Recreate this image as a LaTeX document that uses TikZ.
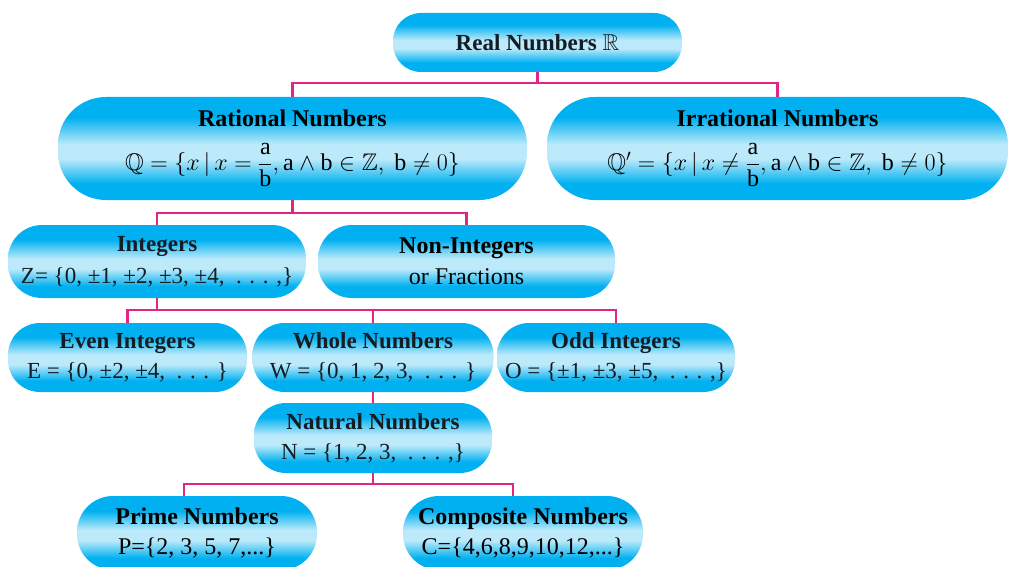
\RequirePackage{fix-cm}
\documentclass[tikz,border=0pt]{standalone}
\usepackage{amsmath,amssymb}
\usepackage{fontspec}
\setmainfont{Liberation Serif}
\definecolor{bxc}{RGB}{0,176,240}
\definecolor{bxl}{RGB}{188,234,250}
\definecolor{lnk}{RGB}{226,36,132}
\definecolor{txd}{RGB}{20,28,36}
\pgfdeclareverticalshading{cyanband}{100bp}{color(0bp)=(bxc); color(25bp)=(bxc); color(33bp)=(bxc); color(45bp)=(bxl); color(52bp)=(bxl); color(65bp)=(bxc); color(75bp)=(bxc); color(100bp)=(bxc)}
\newcommand\upl[1]{\textrm{\normalfont #1}}
\tikzset{
  numbox/.style={shape=rectangle, shading=cyanband, rounded corners=#1, inner sep=0pt, align=center, text=black, font=\fontsize{24}{30}\selectfont},
  numbox/.default=32pt,
  palbox/.style={numbox=#1, text=txd, font=\fontsize{23}{29}\selectfont},
  palbox/.default=32pt,
  link/.style={draw=lnk, line width=2.3pt}
}
\begin{document}
\begin{tikzpicture}[x=1pt,y=-1pt]
\useasboundingbox (0,0) rectangle (1009,567);
% nodes
\node[palbox=28pt, minimum width=289pt, minimum height=59pt] (real) at (537.5,42.5) {\bfseries Real Numbers $\mathbb{R}$};
\node[numbox=48pt, minimum width=469pt, minimum height=103pt] (rat) at (292.5,148.5)
  {\bfseries Rational Numbers\\[14pt] $\mathbb{Q} = \{x\,|\,x = \dfrac{\upl{a}}{\upl{b}}, \upl{a}\wedge\upl{b}\in\mathbb{Z},\ \upl{b}\neq 0\}$};
\node[numbox=48pt, minimum width=461pt, minimum height=103pt] (irr) at (777.5,148.5)
  {\bfseries Irrational Numbers\\[14pt] $\mathbb{Q}' = \{x\,|\,x \neq \dfrac{\upl{a}}{\upl{b}}, \upl{a}\wedge\upl{b}\in\mathbb{Z},\ \upl{b}\neq 0\}$};
\node[palbox=34pt, minimum width=298pt, minimum height=73pt] (int) at (157,261.5)
  {\bfseries Integers\\[3pt] Z= \{0, ±1, ±2, ±3, ±4, \ . . . ,\}};
\node[numbox=34pt, minimum width=297pt, minimum height=73pt] (nonint) at (466.5,261.5)
  {\bfseries Non-Integers\\[1pt] or Fractions};
\node[palbox=32pt, minimum width=239pt, minimum height=69pt] (even) at (127.5,357.5)
  {\bfseries Even Integers\\[1pt] E = \{0, ±2, ±4, \ . . . \}};
\node[palbox=32pt, minimum width=241pt, minimum height=69pt] (whole) at (373,357.5)
  {\bfseries Whole Numbers\\[1pt] W = \{0, 1, 2, 3, \ . . . \}};
\node[palbox=32pt, minimum width=238pt, minimum height=69pt] (odd) at (616,357.5)
  {\bfseries Odd Integers\\[1pt] O = \{±1, ±3, ±5, \ . . . ,\}};
\node[palbox=32pt, minimum width=238pt, minimum height=70pt] (nat) at (373,438)
  {\bfseries Natural Numbers\\[1pt] N = \{1, 2, 3, \ . . . ,\}};
\node[numbox=36pt, minimum width=240pt, minimum height=74pt] (prime) at (197,533)
  {\bfseries Prime Numbers\\[0pt] P=\{2, 3, 5, 7,...\}};
\node[numbox=36pt, minimum width=240pt, minimum height=74pt] (comp) at (523,533)
  {\bfseries Composite Numbers\\[0pt] C=\{4,6,8,9,10,12,...\}};
% junctions
\coordinate (j1) at (537.5,83);
\coordinate (j2) at (292.5,213);
\coordinate (j3) at (157,310);
\coordinate (j5) at (373,484);
% connectors
\draw[link] (real.south) -- (j1);
\draw[link] (rat.north) |- (j1) -| (irr.north);
\draw[link] (rat.south) -- (j2);
\draw[link] (int.north) |- (j2) -| (nonint.north);
\draw[link] (int.south) -- (j3);
\draw[link] (even.north) |- (j3) -| (odd.north);
\draw[link] (whole.north) -- (whole.north |- j3);
\draw[link] (whole.south) -- (nat.north);
\draw[link] (nat.south) -- (j5);
\draw[link] ([xshift=-13pt]prime.north) |- (j5) -| ([xshift=-10pt]comp.north);
\end{tikzpicture}
\end{document}
